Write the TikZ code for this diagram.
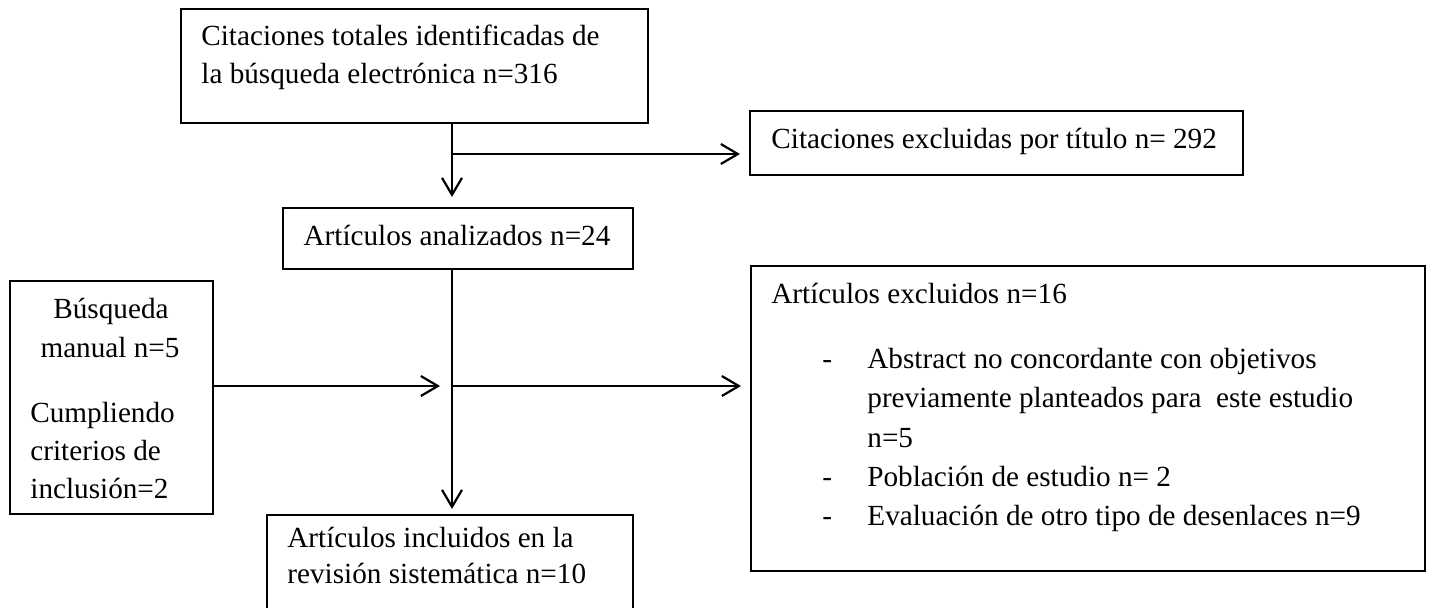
\documentclass[tikz,border=0pt]{standalone}
\usepackage{fontspec}
\setmainfont{Liberation Serif}
\usetikzlibrary{arrows.meta}
\begin{document}
\begin{tikzpicture}[x=0.5pt,y=-0.5pt,
  boxx/.style={draw=black,line width=0.8pt,rectangle,inner sep=0pt,outer sep=0pt,anchor=north west},
  txt/.style={inner sep=0pt,anchor=base west,font=\fontsize{14.6pt}{19.5pt}\selectfont},
  ctxt/.style={txt,anchor=base},
  conn/.style={line width=1.1pt,-{Straight Barb[length=8.5pt,width=10pt,line width=1.1pt]}}]
\useasboundingbox (0,0) rectangle (1430,607);
\clip (0,0) rectangle (1430,607);
% boxes
\node[boxx,minimum width=233.5pt,minimum height=57pt] (top) at (181,9) {};
\node[boxx,minimum width=246.5pt,minimum height=32pt] (excl1) at (750,111) {};
\node[boxx,minimum width=175pt,minimum height=30.5pt] (analiz) at (283,208) {};
\node[boxx,minimum width=101.5pt,minimum height=116.5pt] (manual) at (10,281) {};
\node[boxx,minimum width=337pt,minimum height=152.5pt] (excl2) at (751,266) {};
\node[boxx,minimum width=183pt,minimum height=62.5pt] (incl) at (267,515) {};
% texts
\node[txt] (t1) at (201,45) {Citaciones totales identificadas de};
\node[txt] (t2) at (201,83) {la búsqueda electrónica n=316};
\node[txt] (t3) at (771,148) {Citaciones excluidas por título n= 292};
\node[ctxt] (t4) at (457,245) {Artículos analizados n=24};
\node[ctxt] (t5) at (111,318) {Búsqueda};
\node[ctxt] (t6) at (110,357) {manual n=5};
\node[txt] (t7) at (30,422) {Cumpliendo};
\node[txt] (t8) at (30,460) {criterios de};
\node[txt] (t9) at (30,498) {inclusión=2};
\node[txt] (t10) at (771,303) {Artículos excluidos n=16};
\node[txt] (d1) at (822,368) {-};
\node[txt] (t11) at (867,368) {Abstract no concordante con objetivos};
\node[txt] (t12) at (867,407) {previamente planteados para\ \ este estudio};
\node[txt] (t13) at (867,447) {n=5};
\node[txt] (d2) at (822,486) {-};
\node[txt] (t14) at (867,486) {Población de estudio n= 2};
\node[txt] (d3) at (822,525) {-};
\node[txt] (t15) at (867,525) {Evaluación de otro tipo de desenlaces n=9};
\node[txt] (t16) at (287,547) {Artículos incluidos en la};
\node[txt] (t17) at (287,583) {revisión sistemática n=10};
% connectors
\coordinate (j1) at (452,154);
\coordinate (j2) at (452,386);
\draw[conn,shorten >=5.5pt] (j1 |- top.south) -- (j1 |- analiz.north);
\draw[conn,shorten >=5pt] (j1) -- (j1 -| excl1.west);
\draw[conn,shorten >=3pt] (j2 |- analiz.south) -- (j2 |- incl.north);
\draw[conn,shorten >=6pt] (j2 -| manual.east) -- (j2);
\draw[conn,shorten >=5pt] (j2) -- (j2 -| excl2.west);
\end{tikzpicture}
\end{document}
